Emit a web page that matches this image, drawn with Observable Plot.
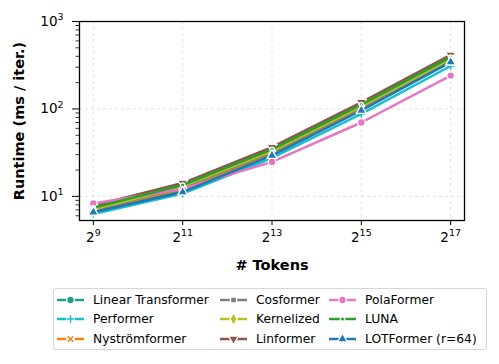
<!DOCTYPE html>
<html>
<head>
<meta charset="utf-8">
<script src="https://cdn.jsdelivr.net/npm/d3@7"></script>
<script src="https://cdn.jsdelivr.net/npm/@observablehq/plot@0.6"></script>
<style>
  html, body { margin: 0; padding: 0; background: #fff; }
  #wrap { position: relative; width: 499px; height: 364px; font-family: "DejaVu Sans", sans-serif; color: #000; }
  #legend { position: absolute; left: 53px; top: 288px; width: 429px; height: 59px;
    border: 1px solid #d6d6d6; border-radius: 3px; display: grid;
    grid-template-columns: 163px 109px auto; grid-template-rows: repeat(3, 19.5px);
    grid-auto-flow: column; padding: 1px 0 0 3px; font-size: 12.3px; }
  .item { display: flex; align-items: center; white-space: nowrap; }
  .item svg { margin-right: 9px; flex: none; }
</style>
</head>
<body>
<div id="wrap"><div id="chart"></div><div id="legend"></div></div>
<script>
const tokens = [512, 2048, 8192, 32768, 131072];
const names = ["Linear Transformer", "Performer", "Nyströmformer", "Cosformer", "Kernelized", "Linformer", "PolaFormer", "LUNA", "LOTFormer (r=64)"];
const colors = ["#1f9e89", "#17becf", "#ff7f0e", "#7f7f7f", "#bcbd22", "#8c564b", "#e377c2", "#2ca02c", "#1f77b4"];
const symbols = ["circle", "plus", "times", "square", "diamond", "triangle", "circle", "circle", "triangle"];
const rotations = [0, 0, 0, 0, 0, 180, 0, 0, 0];
const linearTransformer = [6.8, 11.6, 30.0, 98, 350];
const performer = [6.3, 10.8, 27.5, 88, 310];
const nystromformer = [6.9, 12.2, 31.0, 100, 355];
const cosformer = [7.0, 12.6, 32.0, 104, 362];
const kernelized = [7.1, 13.0, 33.0, 107, 372];
const linformer = [7.8, 14.2, 36.5, 119, 415];
const polaformer = [8.3, 12.2, 24.8, 70, 241];
const luna = [7.4, 13.5, 34.5, 112, 392];
const lotformer = [6.6, 11.2, 29.4, 96, 343];
const series = [linearTransformer, performer, nystromformer, cosformer, kernelized, linformer, polaformer, luna, lotformer];
const yMajor = [10, 100, 1000];
const yMinor = [6, 7, 8, 9, 20, 30, 40, 50, 60, 70, 80, 90, 200, 300, 400, 500, 600, 700, 800, 900];

const strokeSym = s => s === "plus" || s === "times";
const radius = (s, i) => i === 7 ? 2.2 : (s === "triangle" ? 3.7 : (s === "square" ? 3.4 : (strokeSym(s) ? 2.6 : 3.8)));

const marks = [
  Plot.gridX(tokens, {stroke: "#b0b0b0", strokeOpacity: 0.45, strokeDasharray: "3,3", strokeWidth: 0.8}),
  Plot.gridY(yMajor, {stroke: "#b0b0b0", strokeOpacity: 0.45, strokeDasharray: "3,3", strokeWidth: 0.8})
];
series.forEach((vals, i) => {
  const rows = vals.map((v, j) => ({tokens: tokens[j], runtime: v}));
  marks.push(Plot.line(rows, {x: "tokens", y: "runtime", stroke: colors[i], strokeWidth: 2.5}));
  const s = symbols[i];
  marks.push(Plot.dot(rows, strokeSym(s)
    ? {x: "tokens", y: "runtime", symbol: s, r: radius(s, i), stroke: colors[i], strokeWidth: 1.6}
    : {x: "tokens", y: "runtime", symbol: s, r: radius(s, i), fill: colors[i], stroke: "white", strokeWidth: 1.3, rotate: rotations[i]}));
});
marks.push(
  Plot.axisY(yMinor, {tickSize: 3.5, tickFormat: () => "", strokeWidth: 0.8, label: null}),
  Plot.axisY(yMajor, {tickSize: 7, tickPadding: 9, fontSize: 13.5, strokeWidth: 1,
    tickFormat: d => "10^" + Math.round(Math.log10(d)),
    label: "Runtime (ms / iter.)", labelAnchor: "center", labelOffset: 66, labelArrow: "none"}),
  Plot.axisX(tokens, {tickSize: 5, tickPadding: 7, fontSize: 13.5, strokeWidth: 1,
    tickFormat: d => "2^" + Math.round(Math.log2(d)),
    label: "# Tokens", labelAnchor: "center", labelOffset: 49, labelArrow: "none"}),
  Plot.frame({stroke: "black", strokeWidth: 1.3})
);

const svg = Plot.plot({
  width: 499, height: 280,
  marginTop: 21, marginRight: 35, marginBottom: 60, marginLeft: 79,
  style: {fontFamily: "DejaVu Sans, sans-serif", color: "#000", background: "#fff"},
  x: {type: "log", base: 2, domain: [Math.pow(2, 8.69), Math.pow(2, 17.31)]},
  y: {type: "log", domain: [5.3, 1000]},
  marks
});

// superscripts
svg.querySelectorAll("text").forEach(t => {
  const m = t.textContent.match(/^(\d+)\^(\d+)$/);
  if (m) {
    t.textContent = m[1];
    const ts = document.createElementNS("http://www.w3.org/2000/svg", "tspan");
    ts.setAttribute("font-size", "0.7em");
    ts.setAttribute("dy", "-0.6em");
    ts.textContent = m[2];
    t.appendChild(ts);
  }
});
svg.querySelectorAll('g[aria-label$="axis label"] text').forEach(t => {
  t.setAttribute("font-weight", "bold");
  t.setAttribute("font-size", "14.5");
});
document.getElementById("chart").appendChild(svg);

// legend
const symMap = {circle: d3.symbolCircle, plus: d3.symbolPlus, times: d3.symbolTimes, square: d3.symbolSquare, diamond: d3.symbolDiamond, triangle: d3.symbolTriangle};
const legend = document.getElementById("legend");
names.forEach((name, i) => {
  const s = symbols[i];
  const r = radius(s, i);
  const path = d3.symbol(symMap[s], Math.PI * r * r)();
  const mark = strokeSym(s)
    ? `<rect x="9" y="0" width="9" height="12" fill="white"/><path d="${path}" transform="translate(13.5,6)" fill="none" stroke="${colors[i]}" stroke-width="1.6"/>`
    : `<path d="${path}" transform="translate(13.5,6) rotate(${rotations[i]})" fill="${colors[i]}" stroke="white" stroke-width="1.3"/>`;
  const div = document.createElement("div");
  div.className = "item";
  div.innerHTML = `<svg width="27" height="12"><line x1="0" x2="27" y1="6" y2="6" stroke="${colors[i]}" stroke-width="2.5"/>${mark}</svg><span>${name}</span>`;
  legend.appendChild(div);
});
</script>
</body>
</html>
